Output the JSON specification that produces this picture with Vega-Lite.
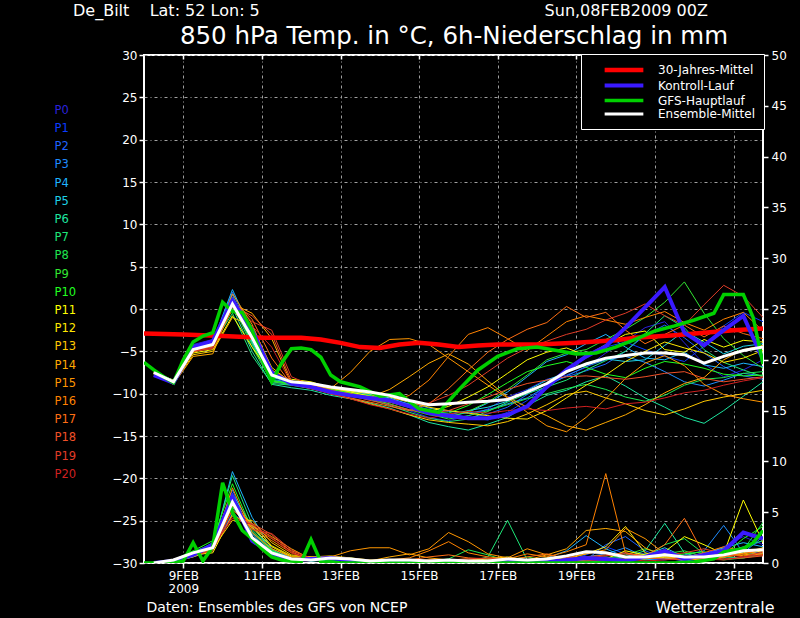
{
"$schema":"https://vega.github.io/schema/vega-lite/v6.json",
"width":619,"height":508,
"autosize":{"type":"none"},
"padding":{"left":144,"top":55,"right":37,"bottom":55},
"background":"#000000",
"config":{
 "font":"DejaVu Sans",
 "view":{"stroke":"#ffffff","strokeWidth":2},
 "axis":{"labelColor":"#ffffff","tickColor":"#ffffff","titleColor":"#ffffff","domain":false,"labelFont":"DejaVu Sans","titleFont":"DejaVu Sans","titleFontWeight":"normal","gridColor":"#a0a0a0","gridDash":[3,3,1,3],"gridWidth":1,"tickWidth":1.5},
 "legend":{"labelColor":"#ffffff","labelFont":"DejaVu Sans","labelFontSize":12},
 "title":{"color":"#ffffff","fontWeight":"normal","font":"DejaVu Sans"}
},
"title":{"text":"De_Bilt\u00a0\u00a0\u00a0\u00a0Lat: 52 Lon: 5\u00a0\u00a0\u00a0\u00a0\u00a0\u00a0\u00a0\u00a0\u00a0\u00a0\u00a0\u00a0\u00a0\u00a0\u00a0\u00a0\u00a0\u00a0\u00a0\u00a0\u00a0\u00a0\u00a0\u00a0\u00a0\u00a0\u00a0\u00a0\u00a0\u00a0\u00a0\u00a0\u00a0\u00a0\u00a0\u00a0\u00a0\u00a0\u00a0\u00a0\u00a0\u00a0\u00a0\u00a0\u00a0\u00a0\u00a0\u00a0\u00a0\u00a0\u00a0\u00a0\u00a0\u00a0\u00a0\u00a0Sun,08FEB2009 00Z","fontSize":16,"anchor":"start","frame":"group","dx":-71,"dy":0,"offset":4},
"datasets":{
"ens":[
{"m":"P0","h":6,"T":-7.6,"R":0},{"m":"P0","h":18,"T":-8.8,"R":0.2},{"m":"P0","h":30,"T":-4.2,"R":0.8},{"m":"P0","h":42,"T":-3.6,"R":1.5},{"m":"P0","h":54,"T":1.2,"R":6.5},{"m":"P0","h":66,"T":-3.5,"R":2.8},{"m":"P0","h":78,"T":-8.4,"R":1.0},{"m":"P0","h":90,"T":-8.9,"R":0.3},{"m":"P0","h":102,"T":-9.4,"R":0.3},{"m":"P0","h":114,"T":-9.9,"R":0.5},{"m":"P0","h":126,"T":-10.3,"R":0.3},{"m":"P0","h":138,"T":-10.6,"R":0.1},{"m":"P0","h":150,"T":-11.2,"R":0.1},{"m":"P0","h":162,"T":-12.0,"R":0},{"m":"P0","h":174,"T":-12.8,"R":0.1},{"m":"P0","h":186,"T":-13.2,"R":0.2},{"m":"P0","h":198,"T":-12.6,"R":0},{"m":"P0","h":210,"T":-11.8,"R":0},{"m":"P0","h":222,"T":-10.4,"R":0.1},{"m":"P0","h":234,"T":-9.5,"R":0.2},{"m":"P0","h":246,"T":-8.3,"R":0.4},{"m":"P0","h":258,"T":-7.8,"R":0.6},{"m":"P0","h":270,"T":-6.9,"R":0.3},{"m":"P0","h":282,"T":-5.2,"R":0.2},{"m":"P0","h":294,"T":-3.8,"R":0.5},{"m":"P0","h":306,"T":-2.2,"R":1.0},{"m":"P0","h":318,"T":-1.5,"R":0.6},{"m":"P0","h":330,"T":-4.0,"R":0.3},{"m":"P0","h":342,"T":-6.5,"R":0.8},{"m":"P0","h":354,"T":-8.0,"R":1.6},{"m":"P0","h":366,"T":-7.2,"R":2.6},{"m":"P0","h":378,"T":-6.0,"R":1.8},
{"m":"P1","h":6,"T":-7.8,"R":0},{"m":"P1","h":18,"T":-8.6,"R":0.1},{"m":"P1","h":30,"T":-4.8,"R":0.6},{"m":"P1","h":42,"T":-4.5,"R":1.2},{"m":"P1","h":54,"T":0.8,"R":5.0},{"m":"P1","h":66,"T":-4.2,"R":3.2},{"m":"P1","h":78,"T":-8.6,"R":1.2},{"m":"P1","h":90,"T":-9.0,"R":0.4},{"m":"P1","h":102,"T":-9.1,"R":0.2},{"m":"P1","h":114,"T":-9.6,"R":0.4},{"m":"P1","h":126,"T":-10.1,"R":0.4},{"m":"P1","h":138,"T":-10.4,"R":0.2},{"m":"P1","h":150,"T":-10.9,"R":0},{"m":"P1","h":162,"T":-11.4,"R":0.1},{"m":"P1","h":174,"T":-12.0,"R":0},{"m":"P1","h":186,"T":-12.4,"R":0.1},{"m":"P1","h":198,"T":-12.8,"R":0.2},{"m":"P1","h":210,"T":-13.1,"R":0.1},{"m":"P1","h":222,"T":-12.2,"R":0},{"m":"P1","h":234,"T":-10.8,"R":0.1},{"m":"P1","h":246,"T":-9.0,"R":0.3},{"m":"P1","h":258,"T":-7.2,"R":0.2},{"m":"P1","h":270,"T":-5.8,"R":0.8},{"m":"P1","h":282,"T":-4.5,"R":1.6},{"m":"P1","h":294,"T":-3.9,"R":0.9},{"m":"P1","h":306,"T":-4.8,"R":0.4},{"m":"P1","h":318,"T":-5.6,"R":0.3},{"m":"P1","h":330,"T":-6.2,"R":0.6},{"m":"P1","h":342,"T":-4.4,"R":1.0},{"m":"P1","h":354,"T":-2.0,"R":0.5},{"m":"P1","h":366,"T":-0.4,"R":1.4},{"m":"P1","h":378,"T":-1.5,"R":2.2},
{"m":"P2","h":6,"T":-7.4,"R":0},{"m":"P2","h":18,"T":-8.5,"R":0.3},{"m":"P2","h":30,"T":-4.9,"R":1.0},{"m":"P2","h":42,"T":-4.1,"R":1.8},{"m":"P2","h":54,"T":2.0,"R":7.2},{"m":"P2","h":66,"T":-3.2,"R":2.5},{"m":"P2","h":78,"T":-8.0,"R":0.8},{"m":"P2","h":90,"T":-8.6,"R":0.2},{"m":"P2","h":102,"T":-9.0,"R":0.4},{"m":"P2","h":114,"T":-9.5,"R":0.6},{"m":"P2","h":126,"T":-9.9,"R":0.3},{"m":"P2","h":138,"T":-10.2,"R":0.1},{"m":"P2","h":150,"T":-10.6,"R":0.2},{"m":"P2","h":162,"T":-11.2,"R":0.1},{"m":"P2","h":174,"T":-11.9,"R":0},{"m":"P2","h":186,"T":-12.6,"R":0},{"m":"P2","h":198,"T":-12.9,"R":0.1},{"m":"P2","h":210,"T":-12.4,"R":0.2},{"m":"P2","h":222,"T":-11.6,"R":0.1},{"m":"P2","h":234,"T":-10.1,"R":0},{"m":"P2","h":246,"T":-8.8,"R":0.2},{"m":"P2","h":258,"T":-8.0,"R":0.4},{"m":"P2","h":270,"T":-7.3,"R":0.3},{"m":"P2","h":282,"T":-6.5,"R":1.8},{"m":"P2","h":294,"T":-5.0,"R":2.6},{"m":"P2","h":306,"T":-3.1,"R":1.2},{"m":"P2","h":318,"T":-1.9,"R":0.5},{"m":"P2","h":330,"T":-3.4,"R":0.2},{"m":"P2","h":342,"T":-5.2,"R":0.4},{"m":"P2","h":354,"T":-6.8,"R":0.8},{"m":"P2","h":366,"T":-7.9,"R":1.2},{"m":"P2","h":378,"T":-8.3,"R":0.9},
{"m":"P3","h":6,"T":-7.5,"R":0},{"m":"P3","h":18,"T":-8.4,"R":0.2},{"m":"P3","h":30,"T":-4.6,"R":0.9},{"m":"P3","h":42,"T":-4.3,"R":2.0},{"m":"P3","h":54,"T":1.7,"R":6.0},{"m":"P3","h":66,"T":-3.9,"R":3.0},{"m":"P3","h":78,"T":-8.3,"R":1.1},{"m":"P3","h":90,"T":-8.7,"R":0.3},{"m":"P3","h":102,"T":-8.9,"R":0.3},{"m":"P3","h":114,"T":-9.4,"R":0.5},{"m":"P3","h":126,"T":-9.8,"R":0.4},{"m":"P3","h":138,"T":-10.0,"R":0.2},{"m":"P3","h":150,"T":-10.4,"R":0.1},{"m":"P3","h":162,"T":-11.0,"R":0.2},{"m":"P3","h":174,"T":-11.7,"R":0.1},{"m":"P3","h":186,"T":-12.1,"R":0},{"m":"P3","h":198,"T":-12.3,"R":0},{"m":"P3","h":210,"T":-11.9,"R":0.1},{"m":"P3","h":222,"T":-11.2,"R":0.2},{"m":"P3","h":234,"T":-10.5,"R":0.3},{"m":"P3","h":246,"T":-9.1,"R":0.2},{"m":"P3","h":258,"T":-7.9,"R":0.1},{"m":"P3","h":270,"T":-6.8,"R":0.6},{"m":"P3","h":282,"T":-6.0,"R":0.9},{"m":"P3","h":294,"T":-5.6,"R":1.5},{"m":"P3","h":306,"T":-6.3,"R":0.6},{"m":"P3","h":318,"T":-7.4,"R":0.4},{"m":"P3","h":330,"T":-8.6,"R":0.8},{"m":"P3","h":342,"T":-9.1,"R":1.2},{"m":"P3","h":354,"T":-8.4,"R":3.7},{"m":"P3","h":366,"T":-7.6,"R":1.0},{"m":"P3","h":378,"T":-7.9,"R":2.6},
{"m":"P4","h":6,"T":-7.7,"R":0},{"m":"P4","h":18,"T":-8.6,"R":0.1},{"m":"P4","h":30,"T":-4.3,"R":0.7},{"m":"P4","h":42,"T":-3.9,"R":1.5},{"m":"P4","h":54,"T":2.3,"R":9.0},{"m":"P4","h":66,"T":-2.8,"R":4.5},{"m":"P4","h":78,"T":-7.9,"R":1.4},{"m":"P4","h":90,"T":-8.5,"R":0.5},{"m":"P4","h":102,"T":-9.1,"R":0.2},{"m":"P4","h":114,"T":-9.7,"R":0.3},{"m":"P4","h":126,"T":-10.0,"R":0.3},{"m":"P4","h":138,"T":-10.4,"R":0.1},{"m":"P4","h":150,"T":-10.8,"R":0},{"m":"P4","h":162,"T":-11.5,"R":0.1},{"m":"P4","h":174,"T":-12.3,"R":0.2},{"m":"P4","h":186,"T":-12.7,"R":0.1},{"m":"P4","h":198,"T":-12.2,"R":0},{"m":"P4","h":210,"T":-11.1,"R":0.1},{"m":"P4","h":222,"T":-9.8,"R":0.3},{"m":"P4","h":234,"T":-8.0,"R":0.2},{"m":"P4","h":246,"T":-6.2,"R":0.5},{"m":"P4","h":258,"T":-5.4,"R":1.2},{"m":"P4","h":270,"T":-4.1,"R":2.7},{"m":"P4","h":282,"T":-3.0,"R":1.4},{"m":"P4","h":294,"T":-4.5,"R":0.6},{"m":"P4","h":306,"T":-5.8,"R":0.3},{"m":"P4","h":318,"T":-6.0,"R":0.5},{"m":"P4","h":330,"T":-5.1,"R":0.4},{"m":"P4","h":342,"T":-6.6,"R":0.9},{"m":"P4","h":354,"T":-7.0,"R":1.5},{"m":"P4","h":366,"T":-6.4,"R":2.0},{"m":"P4","h":378,"T":-6.8,"R":1.6},
{"m":"P5","h":6,"T":-7.3,"R":0},{"m":"P5","h":18,"T":-8.5,"R":0.2},{"m":"P5","h":30,"T":-4.7,"R":0.8},{"m":"P5","h":42,"T":-4.0,"R":1.6},{"m":"P5","h":54,"T":1.0,"R":6.8},{"m":"P5","h":66,"T":-4.0,"R":3.6},{"m":"P5","h":78,"T":-8.1,"R":1.2},{"m":"P5","h":90,"T":-8.6,"R":0.3},{"m":"P5","h":102,"T":-8.8,"R":0.3},{"m":"P5","h":114,"T":-9.3,"R":0.4},{"m":"P5","h":126,"T":-9.7,"R":0.5},{"m":"P5","h":138,"T":-10.1,"R":0.2},{"m":"P5","h":150,"T":-10.5,"R":0.1},{"m":"P5","h":162,"T":-11.3,"R":0},{"m":"P5","h":174,"T":-12.0,"R":0.1},{"m":"P5","h":186,"T":-12.5,"R":0.2},{"m":"P5","h":198,"T":-12.0,"R":0.1},{"m":"P5","h":210,"T":-11.6,"R":0},{"m":"P5","h":222,"T":-10.9,"R":0.1},{"m":"P5","h":234,"T":-9.6,"R":0.2},{"m":"P5","h":246,"T":-8.4,"R":0.3},{"m":"P5","h":258,"T":-7.5,"R":0.2},{"m":"P5","h":270,"T":-6.4,"R":0.4},{"m":"P5","h":282,"T":-5.9,"R":0.6},{"m":"P5","h":294,"T":-6.2,"R":0.3},{"m":"P5","h":306,"T":-6.0,"R":0.8},{"m":"P5","h":318,"T":-4.3,"R":1.5},{"m":"P5","h":330,"T":-2.6,"R":0.6},{"m":"P5","h":342,"T":-3.9,"R":0.3},{"m":"P5","h":354,"T":-5.3,"R":0.7},{"m":"P5","h":366,"T":-4.4,"R":1.1},{"m":"P5","h":378,"T":-4.1,"R":0.8},
{"m":"P6","h":6,"T":-7.6,"R":0},{"m":"P6","h":18,"T":-8.7,"R":0.3},{"m":"P6","h":30,"T":-4.4,"R":1.1},{"m":"P6","h":42,"T":-3.7,"R":1.9},{"m":"P6","h":54,"T":0.2,"R":5.5},{"m":"P6","h":66,"T":-5.0,"R":2.9},{"m":"P6","h":78,"T":-8.9,"R":0.9},{"m":"P6","h":90,"T":-9.3,"R":0.2},{"m":"P6","h":102,"T":-9.6,"R":0.4},{"m":"P6","h":114,"T":-10.2,"R":0.5},{"m":"P6","h":126,"T":-10.6,"R":0.3},{"m":"P6","h":138,"T":-11.1,"R":0.1},{"m":"P6","h":150,"T":-11.7,"R":0.2},{"m":"P6","h":162,"T":-12.5,"R":0.1},{"m":"P6","h":174,"T":-13.4,"R":0},{"m":"P6","h":186,"T":-13.9,"R":0.1},{"m":"P6","h":198,"T":-14.3,"R":0.2},{"m":"P6","h":210,"T":-13.6,"R":0.1},{"m":"P6","h":222,"T":-12.8,"R":0},{"m":"P6","h":234,"T":-11.4,"R":0.1},{"m":"P6","h":246,"T":-10.2,"R":0.2},{"m":"P6","h":258,"T":-9.6,"R":0.3},{"m":"P6","h":270,"T":-8.6,"R":0.2},{"m":"P6","h":282,"T":-7.9,"R":0.4},{"m":"P6","h":294,"T":-9.1,"R":0.6},{"m":"P6","h":306,"T":-10.5,"R":1.2},{"m":"P6","h":318,"T":-11.6,"R":3.9},{"m":"P6","h":330,"T":-12.8,"R":1.0},{"m":"P6","h":342,"T":-13.5,"R":0.4},{"m":"P6","h":354,"T":-12.0,"R":0.6},{"m":"P6","h":366,"T":-10.3,"R":0.5},{"m":"P6","h":378,"T":-8.6,"R":0.9},
{"m":"P7","h":6,"T":-7.5,"R":0},{"m":"P7","h":18,"T":-8.6,"R":0.2},{"m":"P7","h":30,"T":-4.5,"R":0.9},{"m":"P7","h":42,"T":-4.2,"R":1.7},{"m":"P7","h":54,"T":-0.5,"R":8.6},{"m":"P7","h":66,"T":-5.5,"R":3.8},{"m":"P7","h":78,"T":-8.8,"R":1.3},{"m":"P7","h":90,"T":-9.0,"R":0.4},{"m":"P7","h":102,"T":-9.4,"R":0.2},{"m":"P7","h":114,"T":-9.9,"R":0.3},{"m":"P7","h":126,"T":-10.3,"R":0.4},{"m":"P7","h":138,"T":-10.7,"R":0.2},{"m":"P7","h":150,"T":-11.4,"R":0.1},{"m":"P7","h":162,"T":-12.2,"R":0.2},{"m":"P7","h":174,"T":-12.9,"R":0.1},{"m":"P7","h":186,"T":-13.3,"R":0},{"m":"P7","h":198,"T":-13.0,"R":0.1},{"m":"P7","h":210,"T":-12.1,"R":0.6},{"m":"P7","h":222,"T":-11.0,"R":4.2},{"m":"P7","h":234,"T":-10.0,"R":0.3},{"m":"P7","h":246,"T":-9.2,"R":0.1},{"m":"P7","h":258,"T":-8.4,"R":0.2},{"m":"P7","h":270,"T":-7.2,"R":0.4},{"m":"P7","h":282,"T":-6.1,"R":0.3},{"m":"P7","h":294,"T":-5.0,"R":0.5},{"m":"P7","h":306,"T":-2.9,"R":0.9},{"m":"P7","h":318,"T":-0.8,"R":0.6},{"m":"P7","h":330,"T":-2.2,"R":0.3},{"m":"P7","h":342,"T":-4.8,"R":0.8},{"m":"P7","h":354,"T":-6.3,"R":1.0},{"m":"P7","h":366,"T":-7.2,"R":1.6},{"m":"P7","h":378,"T":-8.0,"R":2.2},
{"m":"P8","h":6,"T":-7.4,"R":0},{"m":"P8","h":18,"T":-8.5,"R":0.1},{"m":"P8","h":30,"T":-4.6,"R":1.0},{"m":"P8","h":42,"T":-3.8,"R":1.4},{"m":"P8","h":54,"T":1.4,"R":6.2},{"m":"P8","h":66,"T":-3.6,"R":2.6},{"m":"P8","h":78,"T":-8.4,"R":1.0},{"m":"P8","h":90,"T":-8.8,"R":0.3},{"m":"P8","h":102,"T":-9.2,"R":0.5},{"m":"P8","h":114,"T":-9.6,"R":0.6},{"m":"P8","h":126,"T":-9.8,"R":0.4},{"m":"P8","h":138,"T":-10.3,"R":0.1},{"m":"P8","h":150,"T":-10.9,"R":0},{"m":"P8","h":162,"T":-11.6,"R":0.1},{"m":"P8","h":174,"T":-12.4,"R":0.2},{"m":"P8","h":186,"T":-13.0,"R":0.4},{"m":"P8","h":198,"T":-12.6,"R":1.3},{"m":"P8","h":210,"T":-12.0,"R":0.8},{"m":"P8","h":222,"T":-11.3,"R":0.2},{"m":"P8","h":234,"T":-10.6,"R":0.1},{"m":"P8","h":246,"T":-10.0,"R":0.2},{"m":"P8","h":258,"T":-9.4,"R":0.3},{"m":"P8","h":270,"T":-8.9,"R":0.1},{"m":"P8","h":282,"T":-9.5,"R":0.2},{"m":"P8","h":294,"T":-10.4,"R":0.4},{"m":"P8","h":306,"T":-10.9,"R":0.6},{"m":"P8","h":318,"T":-10.2,"R":1.8},{"m":"P8","h":330,"T":-9.0,"R":2.4},{"m":"P8","h":342,"T":-8.3,"R":0.9},{"m":"P8","h":354,"T":-8.1,"R":0.5},{"m":"P8","h":366,"T":-7.6,"R":1.3},{"m":"P8","h":378,"T":-7.4,"R":4.0},
{"m":"P9","h":6,"T":-7.7,"R":0},{"m":"P9","h":18,"T":-8.7,"R":0.2},{"m":"P9","h":30,"T":-4.8,"R":0.7},{"m":"P9","h":42,"T":-4.4,"R":1.8},{"m":"P9","h":54,"T":0.6,"R":5.8},{"m":"P9","h":66,"T":-4.5,"R":3.1},{"m":"P9","h":78,"T":-8.6,"R":1.1},{"m":"P9","h":90,"T":-8.9,"R":0.3},{"m":"P9","h":102,"T":-9.3,"R":0.3},{"m":"P9","h":114,"T":-9.8,"R":0.4},{"m":"P9","h":126,"T":-10.1,"R":0.3},{"m":"P9","h":138,"T":-10.6,"R":0.2},{"m":"P9","h":150,"T":-11.2,"R":0.3},{"m":"P9","h":162,"T":-11.9,"R":0.2},{"m":"P9","h":174,"T":-12.5,"R":0.1},{"m":"P9","h":186,"T":-12.8,"R":0},{"m":"P9","h":198,"T":-12.1,"R":0.1},{"m":"P9","h":210,"T":-11.0,"R":0.2},{"m":"P9","h":222,"T":-9.5,"R":0.3},{"m":"P9","h":234,"T":-7.8,"R":0.6},{"m":"P9","h":246,"T":-6.0,"R":0.2},{"m":"P9","h":258,"T":-5.2,"R":0.4},{"m":"P9","h":270,"T":-4.8,"R":0.3},{"m":"P9","h":282,"T":-3.6,"R":0.5},{"m":"P9","h":294,"T":-2.4,"R":0.8},{"m":"P9","h":306,"T":-1.0,"R":1.4},{"m":"P9","h":318,"T":0.8,"R":0.9},{"m":"P9","h":330,"T":3.2,"R":1.2},{"m":"P9","h":342,"T":-0.5,"R":0.6},{"m":"P9","h":354,"T":-3.5,"R":0.3},{"m":"P9","h":366,"T":-5.5,"R":0.5},{"m":"P9","h":378,"T":-7.0,"R":0.8},
{"m":"P10","h":6,"T":-7.6,"R":0},{"m":"P10","h":18,"T":-8.6,"R":0.3},{"m":"P10","h":30,"T":-4.7,"R":1.2},{"m":"P10","h":42,"T":-4.3,"R":2.2},{"m":"P10","h":54,"T":0.9,"R":7.8},{"m":"P10","h":66,"T":-4.1,"R":3.3},{"m":"P10","h":78,"T":-8.5,"R":1.2},{"m":"P10","h":90,"T":-8.8,"R":0.4},{"m":"P10","h":102,"T":-9.0,"R":0.4},{"m":"P10","h":114,"T":-9.5,"R":0.5},{"m":"P10","h":126,"T":-9.9,"R":0.3},{"m":"P10","h":138,"T":-10.2,"R":0.1},{"m":"P10","h":150,"T":-10.7,"R":0.1},{"m":"P10","h":162,"T":-11.4,"R":0},{"m":"P10","h":174,"T":-12.1,"R":0.1},{"m":"P10","h":186,"T":-12.3,"R":0.1},{"m":"P10","h":198,"T":-11.4,"R":0.2},{"m":"P10","h":210,"T":-10.1,"R":0.3},{"m":"P10","h":222,"T":-8.7,"R":0.1},{"m":"P10","h":234,"T":-7.4,"R":0.2},{"m":"P10","h":246,"T":-6.7,"R":0.4},{"m":"P10","h":258,"T":-6.2,"R":0.2},{"m":"P10","h":270,"T":-6.9,"R":0.5},{"m":"P10","h":282,"T":-7.7,"R":0.3},{"m":"P10","h":294,"T":-8.1,"R":0.2},{"m":"P10","h":306,"T":-7.0,"R":0.4},{"m":"P10","h":318,"T":-6.2,"R":0.6},{"m":"P10","h":330,"T":-6.5,"R":0.9},{"m":"P10","h":342,"T":-7.0,"R":1.1},{"m":"P10","h":354,"T":-7.7,"R":0.8},{"m":"P10","h":366,"T":-7.9,"R":2.4},{"m":"P10","h":378,"T":-7.8,"R":3.6},
{"m":"P11","h":6,"T":-7.5,"R":0},{"m":"P11","h":18,"T":-8.4,"R":0.2},{"m":"P11","h":30,"T":-5.2,"R":0.8},{"m":"P11","h":42,"T":-4.8,"R":1.0},{"m":"P11","h":54,"T":-0.8,"R":4.8},{"m":"P11","h":66,"T":-4.5,"R":3.5},{"m":"P11","h":78,"T":-7.8,"R":1.6},{"m":"P11","h":90,"T":-8.3,"R":0.6},{"m":"P11","h":102,"T":-8.6,"R":0.5},{"m":"P11","h":114,"T":-9.3,"R":0.4},{"m":"P11","h":126,"T":-9.8,"R":0.4},{"m":"P11","h":138,"T":-10.3,"R":0.2},{"m":"P11","h":150,"T":-11.0,"R":0.1},{"m":"P11","h":162,"T":-11.6,"R":0.3},{"m":"P11","h":174,"T":-12.1,"R":0.2},{"m":"P11","h":186,"T":-11.5,"R":0.1},{"m":"P11","h":198,"T":-10.4,"R":0},{"m":"P11","h":210,"T":-9.2,"R":0.2},{"m":"P11","h":222,"T":-7.6,"R":0.1},{"m":"P11","h":234,"T":-6.0,"R":0.3},{"m":"P11","h":246,"T":-5.1,"R":0.5},{"m":"P11","h":258,"T":-4.6,"R":0.4},{"m":"P11","h":270,"T":-5.5,"R":0.6},{"m":"P11","h":282,"T":-4.2,"R":0.4},{"m":"P11","h":294,"T":-3.0,"R":1.2},{"m":"P11","h":306,"T":-2.6,"R":0.8},{"m":"P11","h":318,"T":-4.8,"R":1.1},{"m":"P11","h":330,"T":-5.1,"R":2.6},{"m":"P11","h":342,"T":-3.6,"R":1.8},{"m":"P11","h":354,"T":-4.5,"R":0.9},{"m":"P11","h":366,"T":-3.7,"R":6.2},{"m":"P11","h":378,"T":-3.9,"R":2.0},
{"m":"P12","h":6,"T":-7.4,"R":0},{"m":"P12","h":18,"T":-8.5,"R":0.1},{"m":"P12","h":30,"T":-5.0,"R":0.6},{"m":"P12","h":42,"T":-4.6,"R":1.3},{"m":"P12","h":54,"T":0.0,"R":5.6},{"m":"P12","h":66,"T":-3.0,"R":3.9},{"m":"P12","h":78,"T":-7.5,"R":1.7},{"m":"P12","h":90,"T":-8.6,"R":0.7},{"m":"P12","h":102,"T":-9.0,"R":0.6},{"m":"P12","h":114,"T":-9.4,"R":0.5},{"m":"P12","h":126,"T":-9.7,"R":0.3},{"m":"P12","h":138,"T":-10.0,"R":0.1},{"m":"P12","h":150,"T":-10.4,"R":0},{"m":"P12","h":162,"T":-11.0,"R":0.1},{"m":"P12","h":174,"T":-11.6,"R":0.2},{"m":"P12","h":186,"T":-12.0,"R":0.3},{"m":"P12","h":198,"T":-12.3,"R":0.2},{"m":"P12","h":210,"T":-12.6,"R":0.4},{"m":"P12","h":222,"T":-12.9,"R":0.6},{"m":"P12","h":234,"T":-13.0,"R":0.3},{"m":"P12","h":246,"T":-12.0,"R":0.2},{"m":"P12","h":258,"T":-10.5,"R":0.4},{"m":"P12","h":270,"T":-9.0,"R":0.9},{"m":"P12","h":282,"T":-7.8,"R":1.6},{"m":"P12","h":294,"T":-6.2,"R":3.6},{"m":"P12","h":306,"T":-5.0,"R":1.0},{"m":"P12","h":318,"T":-3.9,"R":0.5},{"m":"P12","h":330,"T":-4.6,"R":0.4},{"m":"P12","h":342,"T":-5.2,"R":0.7},{"m":"P12","h":354,"T":-6.3,"R":1.4},{"m":"P12","h":366,"T":-5.8,"R":0.9},{"m":"P12","h":378,"T":-4.9,"R":1.2},
{"m":"P13","h":6,"T":-7.6,"R":0},{"m":"P13","h":18,"T":-8.8,"R":0.2},{"m":"P13","h":30,"T":-5.4,"R":0.9},{"m":"P13","h":42,"T":-5.0,"R":1.4},{"m":"P13","h":54,"T":-1.0,"R":4.2},{"m":"P13","h":66,"T":-2.0,"R":4.2},{"m":"P13","h":78,"T":-6.9,"R":2.0},{"m":"P13","h":90,"T":-8.7,"R":0.8},{"m":"P13","h":102,"T":-9.3,"R":0.6},{"m":"P13","h":114,"T":-10.0,"R":0.7},{"m":"P13","h":126,"T":-10.6,"R":0.5},{"m":"P13","h":138,"T":-11.2,"R":0.3},{"m":"P13","h":150,"T":-11.8,"R":0.2},{"m":"P13","h":162,"T":-12.5,"R":0.1},{"m":"P13","h":174,"T":-13.1,"R":0.3},{"m":"P13","h":186,"T":-13.4,"R":0.2},{"m":"P13","h":198,"T":-13.6,"R":0.1},{"m":"P13","h":210,"T":-13.8,"R":0.2},{"m":"P13","h":222,"T":-13.3,"R":0.3},{"m":"P13","h":234,"T":-12.4,"R":0.2},{"m":"P13","h":246,"T":-11.3,"R":0.1},{"m":"P13","h":258,"T":-10.1,"R":0.3},{"m":"P13","h":270,"T":-9.7,"R":0.2},{"m":"P13","h":282,"T":-10.5,"R":0.5},{"m":"P13","h":294,"T":-11.2,"R":0.3},{"m":"P13","h":306,"T":-12.0,"R":0.4},{"m":"P13","h":318,"T":-12.5,"R":0.6},{"m":"P13","h":330,"T":-11.8,"R":0.5},{"m":"P13","h":342,"T":-10.9,"R":0.8},{"m":"P13","h":354,"T":-10.4,"R":0.6},{"m":"P13","h":366,"T":-10.0,"R":1.0},{"m":"P13","h":378,"T":-9.6,"R":1.5},
{"m":"P14","h":6,"T":-7.8,"R":0},{"m":"P14","h":18,"T":-8.9,"R":0.3},{"m":"P14","h":30,"T":-5.6,"R":1.0},{"m":"P14","h":42,"T":-5.3,"R":1.6},{"m":"P14","h":54,"T":0.6,"R":5.2},{"m":"P14","h":66,"T":-0.5,"R":3.7},{"m":"P14","h":78,"T":-3.5,"R":2.6},{"m":"P14","h":90,"T":-8.8,"R":1.4},{"m":"P14","h":102,"T":-9.0,"R":0.4},{"m":"P14","h":114,"T":-9.6,"R":0.5},{"m":"P14","h":126,"T":-10.0,"R":0.4},{"m":"P14","h":138,"T":-10.4,"R":0.2},{"m":"P14","h":150,"T":-9.5,"R":0.6},{"m":"P14","h":162,"T":-8.0,"R":0.9},{"m":"P14","h":174,"T":-6.4,"R":0.5},{"m":"P14","h":186,"T":-5.3,"R":0.3},{"m":"P14","h":198,"T":-6.5,"R":0.4},{"m":"P14","h":210,"T":-8.5,"R":0.2},{"m":"P14","h":222,"T":-10.4,"R":0.1},{"m":"P14","h":234,"T":-11.6,"R":0.3},{"m":"P14","h":246,"T":-12.6,"R":0.8},{"m":"P14","h":258,"T":-13.8,"R":1.4},{"m":"P14","h":270,"T":-14.3,"R":3.2},{"m":"P14","h":282,"T":-13.4,"R":3.4},{"m":"P14","h":294,"T":-12.5,"R":3.1},{"m":"P14","h":306,"T":-11.3,"R":1.5},{"m":"P14","h":318,"T":-9.9,"R":0.6},{"m":"P14","h":330,"T":-8.8,"R":0.4},{"m":"P14","h":342,"T":-8.1,"R":0.3},{"m":"P14","h":354,"T":-6.0,"R":0.6},{"m":"P14","h":366,"T":-4.8,"R":0.8},{"m":"P14","h":378,"T":-4.3,"R":1.0},
{"m":"P15","h":6,"T":-7.5,"R":0},{"m":"P15","h":18,"T":-8.7,"R":0.2},{"m":"P15","h":30,"T":-5.1,"R":0.8},{"m":"P15","h":42,"T":-4.4,"R":1.5},{"m":"P15","h":54,"T":1.8,"R":7.4},{"m":"P15","h":66,"T":-1.8,"R":3.0},{"m":"P15","h":78,"T":-7.2,"R":1.4},{"m":"P15","h":90,"T":-8.5,"R":0.6},{"m":"P15","h":102,"T":-8.9,"R":0.5},{"m":"P15","h":114,"T":-9.4,"R":0.6},{"m":"P15","h":126,"T":-7.5,"R":1.2},{"m":"P15","h":138,"T":-5.0,"R":1.5},{"m":"P15","h":150,"T":-3.6,"R":1.5},{"m":"P15","h":162,"T":-3.5,"R":0.8},{"m":"P15","h":174,"T":-4.2,"R":1.4},{"m":"P15","h":186,"T":-5.8,"R":3.0},{"m":"P15","h":198,"T":-7.4,"R":2.1},{"m":"P15","h":210,"T":-9.0,"R":0.9},{"m":"P15","h":222,"T":-10.5,"R":0.5},{"m":"P15","h":234,"T":-12.2,"R":1.4},{"m":"P15","h":246,"T":-13.8,"R":0.8},{"m":"P15","h":258,"T":-14.5,"R":0.5},{"m":"P15","h":270,"T":-12.8,"R":0.9},{"m":"P15","h":282,"T":-10.6,"R":1.3},{"m":"P15","h":294,"T":-8.2,"R":3.4},{"m":"P15","h":306,"T":-6.4,"R":2.4},{"m":"P15","h":318,"T":-5.5,"R":0.9},{"m":"P15","h":330,"T":-6.7,"R":0.6},{"m":"P15","h":342,"T":-8.9,"R":0.5},{"m":"P15","h":354,"T":-10.1,"R":1.1},{"m":"P15","h":366,"T":-10.6,"R":0.7},{"m":"P15","h":378,"T":-11.0,"R":0.9},
{"m":"P16","h":6,"T":-7.7,"R":0},{"m":"P16","h":18,"T":-8.6,"R":0.1},{"m":"P16","h":30,"T":-4.9,"R":0.7},{"m":"P16","h":42,"T":-4.2,"R":1.2},{"m":"P16","h":54,"T":1.3,"R":6.4},{"m":"P16","h":66,"T":-2.5,"R":3.4},{"m":"P16","h":78,"T":-7.6,"R":2.2},{"m":"P16","h":90,"T":-8.7,"R":1.0},{"m":"P16","h":102,"T":-9.1,"R":0.4},{"m":"P16","h":114,"T":-9.7,"R":0.5},{"m":"P16","h":126,"T":-10.0,"R":0.3},{"m":"P16","h":138,"T":-10.6,"R":0.2},{"m":"P16","h":150,"T":-11.0,"R":0.3},{"m":"P16","h":162,"T":-10.2,"R":0.5},{"m":"P16","h":174,"T":-8.4,"R":1.2},{"m":"P16","h":186,"T":-5.6,"R":2.1},{"m":"P16","h":198,"T":-3.0,"R":1.0},{"m":"P16","h":210,"T":-2.2,"R":0.6},{"m":"P16","h":222,"T":-3.5,"R":0.4},{"m":"P16","h":234,"T":-4.9,"R":0.9},{"m":"P16","h":246,"T":-3.2,"R":0.6},{"m":"P16","h":258,"T":-1.5,"R":1.1},{"m":"P16","h":270,"T":-0.8,"R":1.8},{"m":"P16","h":282,"T":-1.3,"R":8.8},{"m":"P16","h":294,"T":-1.8,"R":1.0},{"m":"P16","h":306,"T":-1.0,"R":0.6},{"m":"P16","h":318,"T":-0.3,"R":0.8},{"m":"P16","h":330,"T":-1.6,"R":0.5},{"m":"P16","h":342,"T":-2.5,"R":1.0},{"m":"P16","h":354,"T":-1.2,"R":1.6},{"m":"P16","h":366,"T":-0.4,"R":1.2},{"m":"P16","h":378,"T":-2.6,"R":0.8},
{"m":"P17","h":6,"T":-7.6,"R":0},{"m":"P17","h":18,"T":-8.5,"R":0.2},{"m":"P17","h":30,"T":-4.6,"R":0.9},{"m":"P17","h":42,"T":-4.0,"R":1.3},{"m":"P17","h":54,"T":1.0,"R":5.9},{"m":"P17","h":66,"T":-1.2,"R":3.6},{"m":"P17","h":78,"T":-5.8,"R":2.4},{"m":"P17","h":90,"T":-8.9,"R":1.2},{"m":"P17","h":102,"T":-9.4,"R":0.5},{"m":"P17","h":114,"T":-10.0,"R":0.6},{"m":"P17","h":126,"T":-10.5,"R":0.4},{"m":"P17","h":138,"T":-11.0,"R":0.2},{"m":"P17","h":150,"T":-11.5,"R":0.2},{"m":"P17","h":162,"T":-12.0,"R":0.3},{"m":"P17","h":174,"T":-11.2,"R":0.6},{"m":"P17","h":186,"T":-9.4,"R":0.8},{"m":"P17","h":198,"T":-7.2,"R":0.5},{"m":"P17","h":210,"T":-5.1,"R":0.4},{"m":"P17","h":222,"T":-3.6,"R":0.3},{"m":"P17","h":234,"T":-2.4,"R":0.6},{"m":"P17","h":246,"T":-1.6,"R":0.9},{"m":"P17","h":258,"T":0.3,"R":0.4},{"m":"P17","h":270,"T":-1.0,"R":0.6},{"m":"P17","h":282,"T":-0.4,"R":0.8},{"m":"P17","h":294,"T":-2.5,"R":1.0},{"m":"P17","h":306,"T":-4.1,"R":0.7},{"m":"P17","h":318,"T":-3.0,"R":1.8},{"m":"P17","h":330,"T":-1.9,"R":4.4},{"m":"P17","h":342,"T":-3.3,"R":0.8},{"m":"P17","h":354,"T":-2.0,"R":0.6},{"m":"P17","h":366,"T":-2.9,"R":0.9},{"m":"P17","h":378,"T":-3.5,"R":1.4},
{"m":"P18","h":6,"T":-7.5,"R":0},{"m":"P18","h":18,"T":-8.6,"R":0.3},{"m":"P18","h":30,"T":-4.8,"R":1.0},{"m":"P18","h":42,"T":-4.5,"R":1.5},{"m":"P18","h":54,"T":0.4,"R":4.6},{"m":"P18","h":66,"T":-0.8,"R":3.9},{"m":"P18","h":78,"T":-3.0,"R":2.8},{"m":"P18","h":90,"T":-8.5,"R":1.1},{"m":"P18","h":102,"T":-9.2,"R":0.3},{"m":"P18","h":114,"T":-9.8,"R":0.4},{"m":"P18","h":126,"T":-10.2,"R":0.3},{"m":"P18","h":138,"T":-10.8,"R":0.1},{"m":"P18","h":150,"T":-11.3,"R":0.1},{"m":"P18","h":162,"T":-11.9,"R":0.2},{"m":"P18","h":174,"T":-12.3,"R":0.3},{"m":"P18","h":186,"T":-12.0,"R":0.2},{"m":"P18","h":198,"T":-11.2,"R":0.1},{"m":"P18","h":210,"T":-10.4,"R":0.1},{"m":"P18","h":222,"T":-9.5,"R":0.2},{"m":"P18","h":234,"T":-8.8,"R":0.1},{"m":"P18","h":246,"T":-8.4,"R":0.3},{"m":"P18","h":258,"T":-8.0,"R":0.2},{"m":"P18","h":270,"T":-7.9,"R":0.4},{"m":"P18","h":282,"T":-8.1,"R":0.3},{"m":"P18","h":294,"T":-8.3,"R":0.2},{"m":"P18","h":306,"T":-8.0,"R":0.5},{"m":"P18","h":318,"T":-7.6,"R":0.4},{"m":"P18","h":330,"T":-7.4,"R":0.3},{"m":"P18","h":342,"T":-8.2,"R":0.6},{"m":"P18","h":354,"T":-8.6,"R":0.4},{"m":"P18","h":366,"T":-8.3,"R":0.5},{"m":"P18","h":378,"T":-8.0,"R":0.7},
{"m":"P19","h":6,"T":-7.7,"R":0},{"m":"P19","h":18,"T":-8.8,"R":0.2},{"m":"P19","h":30,"T":-5.0,"R":0.8},{"m":"P19","h":42,"T":-4.7,"R":1.2},{"m":"P19","h":54,"T":0.8,"R":5.3},{"m":"P19","h":66,"T":-1.5,"R":3.3},{"m":"P19","h":78,"T":-2.5,"R":2.9},{"m":"P19","h":90,"T":-8.0,"R":1.3},{"m":"P19","h":102,"T":-9.0,"R":0.4},{"m":"P19","h":114,"T":-9.6,"R":0.5},{"m":"P19","h":126,"T":-10.1,"R":0.4},{"m":"P19","h":138,"T":-10.5,"R":0.2},{"m":"P19","h":150,"T":-11.0,"R":0.1},{"m":"P19","h":162,"T":-11.5,"R":0.2},{"m":"P19","h":174,"T":-11.1,"R":0.2},{"m":"P19","h":186,"T":-10.2,"R":0.3},{"m":"P19","h":198,"T":-9.0,"R":0.4},{"m":"P19","h":210,"T":-7.4,"R":0.5},{"m":"P19","h":222,"T":-5.8,"R":0.3},{"m":"P19","h":234,"T":-4.6,"R":0.2},{"m":"P19","h":246,"T":-3.8,"R":0.4},{"m":"P19","h":258,"T":-3.0,"R":0.6},{"m":"P19","h":270,"T":-2.4,"R":0.5},{"m":"P19","h":282,"T":-1.3,"R":0.7},{"m":"P19","h":294,"T":-0.5,"R":0.9},{"m":"P19","h":306,"T":0.6,"R":0.6},{"m":"P19","h":318,"T":-0.8,"R":0.8},{"m":"P19","h":330,"T":-1.9,"R":1.0},{"m":"P19","h":342,"T":0.5,"R":1.4},{"m":"P19","h":354,"T":2.8,"R":0.9},{"m":"P19","h":366,"T":1.5,"R":0.6},{"m":"P19","h":378,"T":-1.0,"R":1.1},
{"m":"P20","h":6,"T":-7.6,"R":0},{"m":"P20","h":18,"T":-8.7,"R":0.3},{"m":"P20","h":30,"T":-4.9,"R":0.9},{"m":"P20","h":42,"T":-4.6,"R":1.6},{"m":"P20","h":54,"T":0.2,"R":4.4},{"m":"P20","h":66,"T":-2.0,"R":3.8},{"m":"P20","h":78,"T":-4.5,"R":2.5},{"m":"P20","h":90,"T":-8.8,"R":1.0},{"m":"P20","h":102,"T":-9.4,"R":0.3},{"m":"P20","h":114,"T":-10.0,"R":0.4},{"m":"P20","h":126,"T":-10.6,"R":0.3},{"m":"P20","h":138,"T":-11.3,"R":0.1},{"m":"P20","h":150,"T":-11.8,"R":0.1},{"m":"P20","h":162,"T":-12.4,"R":0.1},{"m":"P20","h":174,"T":-12.9,"R":0.2},{"m":"P20","h":186,"T":-12.4,"R":0.1},{"m":"P20","h":198,"T":-12.1,"R":0.1},{"m":"P20","h":210,"T":-12.3,"R":0.2},{"m":"P20","h":222,"T":-12.0,"R":0.1},{"m":"P20","h":234,"T":-11.8,"R":0.3},{"m":"P20","h":246,"T":-12.0,"R":0.2},{"m":"P20","h":258,"T":-11.7,"R":0.1},{"m":"P20","h":270,"T":-11.5,"R":0.2},{"m":"P20","h":282,"T":-11.8,"R":0.3},{"m":"P20","h":294,"T":-11.2,"R":0.4},{"m":"P20","h":306,"T":-11.0,"R":0.2},{"m":"P20","h":318,"T":-10.5,"R":0.3},{"m":"P20","h":330,"T":-9.9,"R":0.5},{"m":"P20","h":342,"T":-9.6,"R":0.4},{"m":"P20","h":354,"T":-9.0,"R":0.3},{"m":"P20","h":366,"T":-8.5,"R":0.6},{"m":"P20","h":378,"T":-8.1,"R":0.8}
],
"spec":[
{"s":"30-Jahres-Mittel","h":0,"T":-2.9},{"s":"30-Jahres-Mittel","h":24,"T":-3.0},{"s":"30-Jahres-Mittel","h":48,"T":-3.2},{"s":"30-Jahres-Mittel","h":72,"T":-3.4},{"s":"30-Jahres-Mittel","h":96,"T":-3.4},{"s":"30-Jahres-Mittel","h":108,"T":-3.6},{"s":"30-Jahres-Mittel","h":120,"T":-4.0},{"s":"30-Jahres-Mittel","h":132,"T":-4.5},{"s":"30-Jahres-Mittel","h":144,"T":-4.6},{"s":"30-Jahres-Mittel","h":156,"T":-4.2},{"s":"30-Jahres-Mittel","h":168,"T":-4.0},{"s":"30-Jahres-Mittel","h":180,"T":-4.2},{"s":"30-Jahres-Mittel","h":192,"T":-4.5},{"s":"30-Jahres-Mittel","h":204,"T":-4.3},{"s":"30-Jahres-Mittel","h":216,"T":-4.2},{"s":"30-Jahres-Mittel","h":240,"T":-4.2},{"s":"30-Jahres-Mittel","h":264,"T":-4.0},{"s":"30-Jahres-Mittel","h":288,"T":-3.7},{"s":"30-Jahres-Mittel","h":300,"T":-3.4},{"s":"30-Jahres-Mittel","h":324,"T":-3.1},{"s":"30-Jahres-Mittel","h":342,"T":-2.8},{"s":"30-Jahres-Mittel","h":360,"T":-2.5},{"s":"30-Jahres-Mittel","h":378,"T":-2.3},
{"s":"Kontroll-Lauf","h":6,"T":-7.8,"R":0},{"s":"Kontroll-Lauf","h":18,"T":-8.7,"R":0.2},{"s":"Kontroll-Lauf","h":30,"T":-4.5,"R":0.8},{"s":"Kontroll-Lauf","h":42,"T":-3.8,"R":1.8},{"s":"Kontroll-Lauf","h":54,"T":1.0,"R":6.5},{"s":"Kontroll-Lauf","h":66,"T":-2.5,"R":2.2},{"s":"Kontroll-Lauf","h":78,"T":-7.5,"R":0.9},{"s":"Kontroll-Lauf","h":90,"T":-8.8,"R":0.3},{"s":"Kontroll-Lauf","h":102,"T":-9.2,"R":0.4},{"s":"Kontroll-Lauf","h":114,"T":-9.8,"R":0.5},{"s":"Kontroll-Lauf","h":126,"T":-10.2,"R":0.3},{"s":"Kontroll-Lauf","h":138,"T":-10.5,"R":0.1},{"s":"Kontroll-Lauf","h":150,"T":-10.8,"R":0.1},{"s":"Kontroll-Lauf","h":162,"T":-11.5,"R":0},{"s":"Kontroll-Lauf","h":174,"T":-12.3,"R":0.1},{"s":"Kontroll-Lauf","h":186,"T":-12.6,"R":0.2},{"s":"Kontroll-Lauf","h":198,"T":-12.9,"R":0.1},{"s":"Kontroll-Lauf","h":210,"T":-12.9,"R":0},{"s":"Kontroll-Lauf","h":222,"T":-12.5,"R":0.1},{"s":"Kontroll-Lauf","h":234,"T":-11.5,"R":0.2},{"s":"Kontroll-Lauf","h":246,"T":-9.2,"R":0.1},{"s":"Kontroll-Lauf","h":258,"T":-7.2,"R":0.3},{"s":"Kontroll-Lauf","h":270,"T":-5.6,"R":0.5},{"s":"Kontroll-Lauf","h":282,"T":-4.4,"R":0.4},{"s":"Kontroll-Lauf","h":294,"T":-2.2,"R":0.2},{"s":"Kontroll-Lauf","h":306,"T":0.2,"R":0.6},{"s":"Kontroll-Lauf","h":318,"T":2.6,"R":1.2},{"s":"Kontroll-Lauf","h":330,"T":-2.8,"R":0.4},{"s":"Kontroll-Lauf","h":342,"T":-4.3,"R":0.8},{"s":"Kontroll-Lauf","h":354,"T":-2.5,"R":1.2},{"s":"Kontroll-Lauf","h":366,"T":-0.8,"R":3.0},{"s":"Kontroll-Lauf","h":378,"T":-6.0,"R":2.4},
{"s":"GFS-Hauptlauf","h":0,"T":-6.3,"R":0},{"s":"GFS-Hauptlauf","h":6,"T":-7.2,"R":0},{"s":"GFS-Hauptlauf","h":12,"T":-8.0,"R":0},{"s":"GFS-Hauptlauf","h":18,"T":-8.7,"R":0},{"s":"GFS-Hauptlauf","h":24,"T":-6.0,"R":0.2},{"s":"GFS-Hauptlauf","h":30,"T":-3.9,"R":2.0},{"s":"GFS-Hauptlauf","h":36,"T":-3.2,"R":0.2},{"s":"GFS-Hauptlauf","h":42,"T":-2.8,"R":1.6},{"s":"GFS-Hauptlauf","h":48,"T":0.8,"R":7.9},{"s":"GFS-Hauptlauf","h":54,"T":-0.3,"R":5.0},{"s":"GFS-Hauptlauf","h":60,"T":-0.4,"R":3.2},{"s":"GFS-Hauptlauf","h":66,"T":-2.5,"R":2.4},{"s":"GFS-Hauptlauf","h":72,"T":-5.8,"R":1.4},{"s":"GFS-Hauptlauf","h":78,"T":-8.6,"R":0.6},{"s":"GFS-Hauptlauf","h":84,"T":-6.4,"R":0.3},{"s":"GFS-Hauptlauf","h":90,"T":-4.7,"R":0.2},{"s":"GFS-Hauptlauf","h":96,"T":-4.6,"R":0.1},{"s":"GFS-Hauptlauf","h":102,"T":-4.8,"R":2.3},{"s":"GFS-Hauptlauf","h":108,"T":-5.7,"R":0.1},{"s":"GFS-Hauptlauf","h":114,"T":-7.8,"R":0.1},{"s":"GFS-Hauptlauf","h":120,"T":-8.6,"R":0},{"s":"GFS-Hauptlauf","h":132,"T":-9.2,"R":0},{"s":"GFS-Hauptlauf","h":144,"T":-10.3,"R":0},{"s":"GFS-Hauptlauf","h":156,"T":-10.0,"R":0},{"s":"GFS-Hauptlauf","h":168,"T":-11.8,"R":0},{"s":"GFS-Hauptlauf","h":180,"T":-12.2,"R":0},{"s":"GFS-Hauptlauf","h":192,"T":-9.6,"R":0},{"s":"GFS-Hauptlauf","h":204,"T":-7.2,"R":0},{"s":"GFS-Hauptlauf","h":216,"T":-5.6,"R":0},{"s":"GFS-Hauptlauf","h":228,"T":-4.7,"R":0},{"s":"GFS-Hauptlauf","h":240,"T":-4.5,"R":0},{"s":"GFS-Hauptlauf","h":252,"T":-4.9,"R":0},{"s":"GFS-Hauptlauf","h":264,"T":-5.3,"R":0},{"s":"GFS-Hauptlauf","h":276,"T":-5.2,"R":0},{"s":"GFS-Hauptlauf","h":288,"T":-4.5,"R":0},{"s":"GFS-Hauptlauf","h":300,"T":-3.6,"R":0},{"s":"GFS-Hauptlauf","h":312,"T":-2.6,"R":0},{"s":"GFS-Hauptlauf","h":324,"T":-2.0,"R":0},{"s":"GFS-Hauptlauf","h":336,"T":-1.3,"R":0.1},{"s":"GFS-Hauptlauf","h":348,"T":-0.5,"R":0.4},{"s":"GFS-Hauptlauf","h":354,"T":1.7,"R":1.1},{"s":"GFS-Hauptlauf","h":366,"T":1.7,"R":1.4},{"s":"GFS-Hauptlauf","h":372,"T":-1.0,"R":2.0},{"s":"GFS-Hauptlauf","h":378,"T":-6.5,"R":3.2},
{"s":"Ensemble-Mittel","h":6,"T":-7.5,"R":0},{"s":"Ensemble-Mittel","h":18,"T":-8.6,"R":0.3},{"s":"Ensemble-Mittel","h":30,"T":-4.8,"R":1.0},{"s":"Ensemble-Mittel","h":42,"T":-4.2,"R":1.5},{"s":"Ensemble-Mittel","h":54,"T":0.6,"R":6.0},{"s":"Ensemble-Mittel","h":66,"T":-3.4,"R":2.5},{"s":"Ensemble-Mittel","h":78,"T":-7.8,"R":1.0},{"s":"Ensemble-Mittel","h":90,"T":-8.6,"R":0.4},{"s":"Ensemble-Mittel","h":102,"T":-8.8,"R":0.3},{"s":"Ensemble-Mittel","h":114,"T":-9.2,"R":0.5},{"s":"Ensemble-Mittel","h":126,"T":-9.5,"R":0.4},{"s":"Ensemble-Mittel","h":138,"T":-9.8,"R":0.2},{"s":"Ensemble-Mittel","h":150,"T":-10.2,"R":0.3},{"s":"Ensemble-Mittel","h":162,"T":-10.8,"R":0.3},{"s":"Ensemble-Mittel","h":174,"T":-11.3,"R":0.2},{"s":"Ensemble-Mittel","h":186,"T":-11.2,"R":0.3},{"s":"Ensemble-Mittel","h":198,"T":-11.0,"R":0.2},{"s":"Ensemble-Mittel","h":210,"T":-10.9,"R":0.2},{"s":"Ensemble-Mittel","h":222,"T":-10.7,"R":0.4},{"s":"Ensemble-Mittel","h":234,"T":-9.8,"R":0.3},{"s":"Ensemble-Mittel","h":246,"T":-8.8,"R":0.4},{"s":"Ensemble-Mittel","h":258,"T":-7.4,"R":0.7},{"s":"Ensemble-Mittel","h":270,"T":-6.5,"R":1.1},{"s":"Ensemble-Mittel","h":282,"T":-5.8,"R":1.0},{"s":"Ensemble-Mittel","h":294,"T":-5.5,"R":0.6},{"s":"Ensemble-Mittel","h":306,"T":-5.2,"R":0.6},{"s":"Ensemble-Mittel","h":318,"T":-5.2,"R":0.8},{"s":"Ensemble-Mittel","h":330,"T":-5.4,"R":0.6},{"s":"Ensemble-Mittel","h":342,"T":-6.4,"R":0.6},{"s":"Ensemble-Mittel","h":354,"T":-5.6,"R":0.8},{"s":"Ensemble-Mittel","h":366,"T":-4.9,"R":1.2},{"s":"Ensemble-Mittel","h":378,"T":-4.5,"R":1.3}
]
},
"layer":[
{"data":{"name":"ens"},
 "mark":{"type":"line","strokeWidth":1,"clip":true},
 "encoding":{
  "x":{"field":"h","type":"quantitative","scale":{"domain":[0,378],"nice":false,"zero":false},
   "axis":{"orient":"bottom","values":[24,72,120,168,216,264,312,360],"labelExpr":"datum.value == 24 ? ['9FEB', '2009'] : (8 + datum.value / 24) + 'FEB'","labelFontSize":12,"labelLineHeight":13,"tickSize":5,"labelPadding":2,"labelBaseline":"top","grid":true,"title":"Daten: Ensembles des GFS von NCEP","titleFontSize":14,"titleAnchor":"start","titleAlign":"left","titleX":2,"titleY":44,"titleBaseline":"middle"}},
  "y":{"field":"T","type":"quantitative","scale":{"domain":[-30,30],"nice":false,"zero":false},
   "axis":{"orient":"left","values":[-30,-25,-20,-15,-10,-5,0,5,10,15,20,25,30],"labelFontSize":12,"tickSize":5,"labelPadding":2,"grid":true,"title":null}},
  "color":{"field":"m","type":"nominal",
   "scale":{"domain":["P0","P1","P2","P3","P4","P5","P6","P7","P8","P9","P10","P11","P12","P13","P14","P15","P16","P17","P18","P19","P20"],
    "range":["#2a22dc","#0a3cff","#1e64ff","#1e8cff","#1eb4ff","#1ed2e6","#1ee6a0","#1ee678","#1ee650","#32e632","#20ff20","#ffff00","#ffe600","#ffc800","#ffaa00","#ff9600","#ff8200","#ff6e14","#f05028","#e03c28","#d02020"]},
   "legend":{"orient":"none","legendX":-101,"legendY":50,"title":null,"symbolOpacity":0,"symbolSize":0,"symbolStrokeWidth":0,"labelFontSize":11.5,"labelOffset":0,"rowPadding":5.2,"padding":0,"labelColor":{"expr":"scale('color', datum.value)"}}}
 }},
{"data":{"name":"ens"},
 "mark":{"type":"line","strokeWidth":1,"clip":true},
 "encoding":{
  "x":{"field":"h","type":"quantitative","scale":{"domain":[0,378],"nice":false,"zero":false},"axis":null},
  "y":{"field":"R","type":"quantitative","scale":{"domain":[0,50],"nice":false,"zero":false},
   "axis":{"orient":"right","values":[0,5,10,15,20,25,30,35,40,45,50],"labelFontSize":12,"tickSize":5,"labelPadding":3,"grid":false,"title":"Wetterzentrale","titleAngle":0,"titleFontSize":16,"titleX":-108,"titleY":552,"titleAlign":"left","titleBaseline":"middle"}},
  "color":{"field":"m","type":"nominal"}
 }},
{"data":{"name":"spec"},
 "mark":{"type":"line","clip":true},
 "encoding":{
  "x":{"field":"h","type":"quantitative","scale":{"domain":[0,378],"nice":false,"zero":false},
   "axis":{"orient":"top","values":[24,72,120,168,216,264,312,360],"labels":false,"tickSize":-4,"grid":false,"title":"850 hPa Temp. in °C, 6h-Niederschlag in mm","titleFontSize":24.5,"titleX":309.5,"titleY":-12,"titleAlign":"center","titleBaseline":"alphabetic","titleAnchor":"middle"}},
  "y":{"field":"T","type":"quantitative","scale":{"domain":[-30,30],"nice":false,"zero":false},"axis":null},
  "stroke":{"field":"s","type":"nominal",
   "scale":{"domain":["30-Jahres-Mittel","Kontroll-Lauf","GFS-Hauptlauf","Ensemble-Mittel"],"range":["#ff0000","#3a1aff","#00d000","#ffffff"]},
   "legend":{"orient":"none","legendX":437,"legendY":-1,"title":null,"fillColor":"#000000","strokeColor":"#ffffff","padding":9,"symbolType":"M-4.3,0H4.3","symbolSize":81,"symbolStrokeWidth":4,"symbolOffset":27,"labelOffset":27,"labelFontSize":12,"rowPadding":-2.7}},
  "strokeWidth":{"field":"s","type":"ordinal","scale":{"domain":["30-Jahres-Mittel","Kontroll-Lauf","GFS-Hauptlauf","Ensemble-Mittel"],"range":[4.5,3,3,3]},"legend":null}
 }},
{"data":{"name":"spec"},
 "transform":[{"filter":"datum.s != '30-Jahres-Mittel'"}],
 "mark":{"type":"line","clip":true},
 "encoding":{
  "x":{"field":"h","type":"quantitative","scale":{"domain":[0,378],"nice":false,"zero":false},"axis":null},
  "y":{"field":"R","type":"quantitative","scale":{"domain":[0,50],"nice":false,"zero":false},"axis":null},
  "stroke":{"field":"s","type":"nominal"},
  "strokeWidth":{"field":"s","type":"ordinal","legend":null}
 }}
],
"resolve":{"scale":{"y":"independent"},"axis":{"x":"independent","y":"independent"}}
}
